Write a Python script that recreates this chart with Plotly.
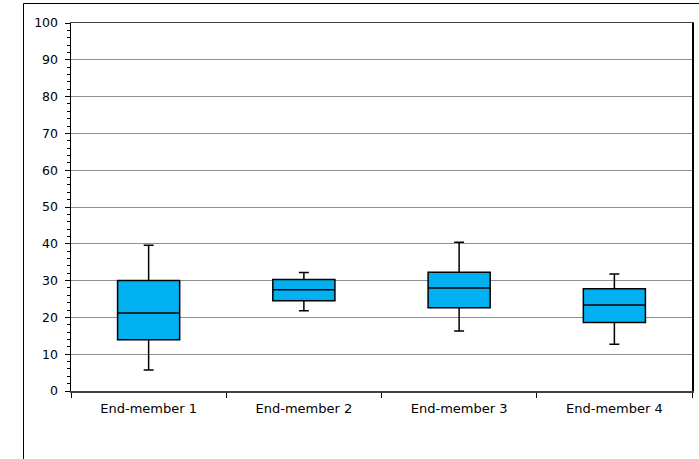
import plotly.graph_objects as go

categories = ["End-member 1", "End-member 2", "End-member 3", "End-member 4"]
lower_whisker = [5.7, 21.8, 16.3, 12.7]
q1 = [13.9, 24.5, 22.6, 18.6]
median = [21.2, 27.5, 28.0, 23.4]
q3 = [30.0, 30.3, 32.3, 27.8]
upper_whisker = [39.6, 32.2, 40.4, 31.8]
y_ticks = list(range(0, 101, 10))

W, H = 699, 459
L, T = 71, 23
pw, ph = 621, 368
R = W - L - pw
B = H - T - ph

fig = go.Figure()
fig.add_trace(go.Box(
    x=categories,
    q1=q1, median=median, q3=q3,
    lowerfence=lower_whisker, upperfence=upper_whisker,
    fillcolor="#00B0F0",
    line=dict(color="#000000", width=1.5),
    width=0.4,
    whiskerwidth=0.16,
    boxpoints=False,
    hoverinfo="skip",
    showlegend=False,
))

xfont = dict(family="DejaVu Sans", size=13, color="#000000")
yfont = dict(family="DejaVu Sans", size=12.5, color="#000000")

fig.update_layout(
    width=W, height=H,
    margin=dict(l=L, r=R, t=T, b=B, autoexpand=False),
    paper_bgcolor="white", plot_bgcolor="white",
    font=xfont,
    showlegend=False,
    xaxis=dict(
        type="category",
        range=[-0.5, 3.5],
        showgrid=False,
        showline=True, linecolor="#404040", linewidth=1.5, mirror=True,
        ticks="outside", ticklen=5, tickcolor="#000000", tickwidth=1,
        tickson="boundaries",
        tickfont=xfont,
        ticklabelstandoff=5,
        zeroline=False,
        automargin=False,
    ),
    yaxis=dict(
        range=[0, 100],
        tickvals=y_ticks,
        showgrid=True, gridcolor="#909090", gridwidth=1,
        showline=True, linecolor="#000000", linewidth=1.5, mirror=True,
        ticks="outside", ticklen=5, tickcolor="#000000", tickwidth=1,
        minor=dict(dtick=2, ticks="outside", ticklen=3, tickcolor="#000000", tickwidth=1, showgrid=False),
        tickfont=yfont,
        ticklabelstandoff=4,
        zeroline=False,
        automargin=False,
    ),
    shapes=[dict(
        type="rect", xref="paper", yref="paper",
        x0=(23.5 - L) / pw, x1=(W + 10 - L) / pw,
        y0=-(H + 10 - (T + ph)) / ph, y1=1 + (T - 3.5) / ph,
        line=dict(color="#000000", width=1),
        fillcolor="rgba(0,0,0,0)",
        layer="below",
    )],
)

fig.write_html(
    "out.html",
    config={"displayModeBar": False, "staticPlot": True},
    post_script="document.body.style.margin='0';document.body.style.overflow='hidden';",
)
